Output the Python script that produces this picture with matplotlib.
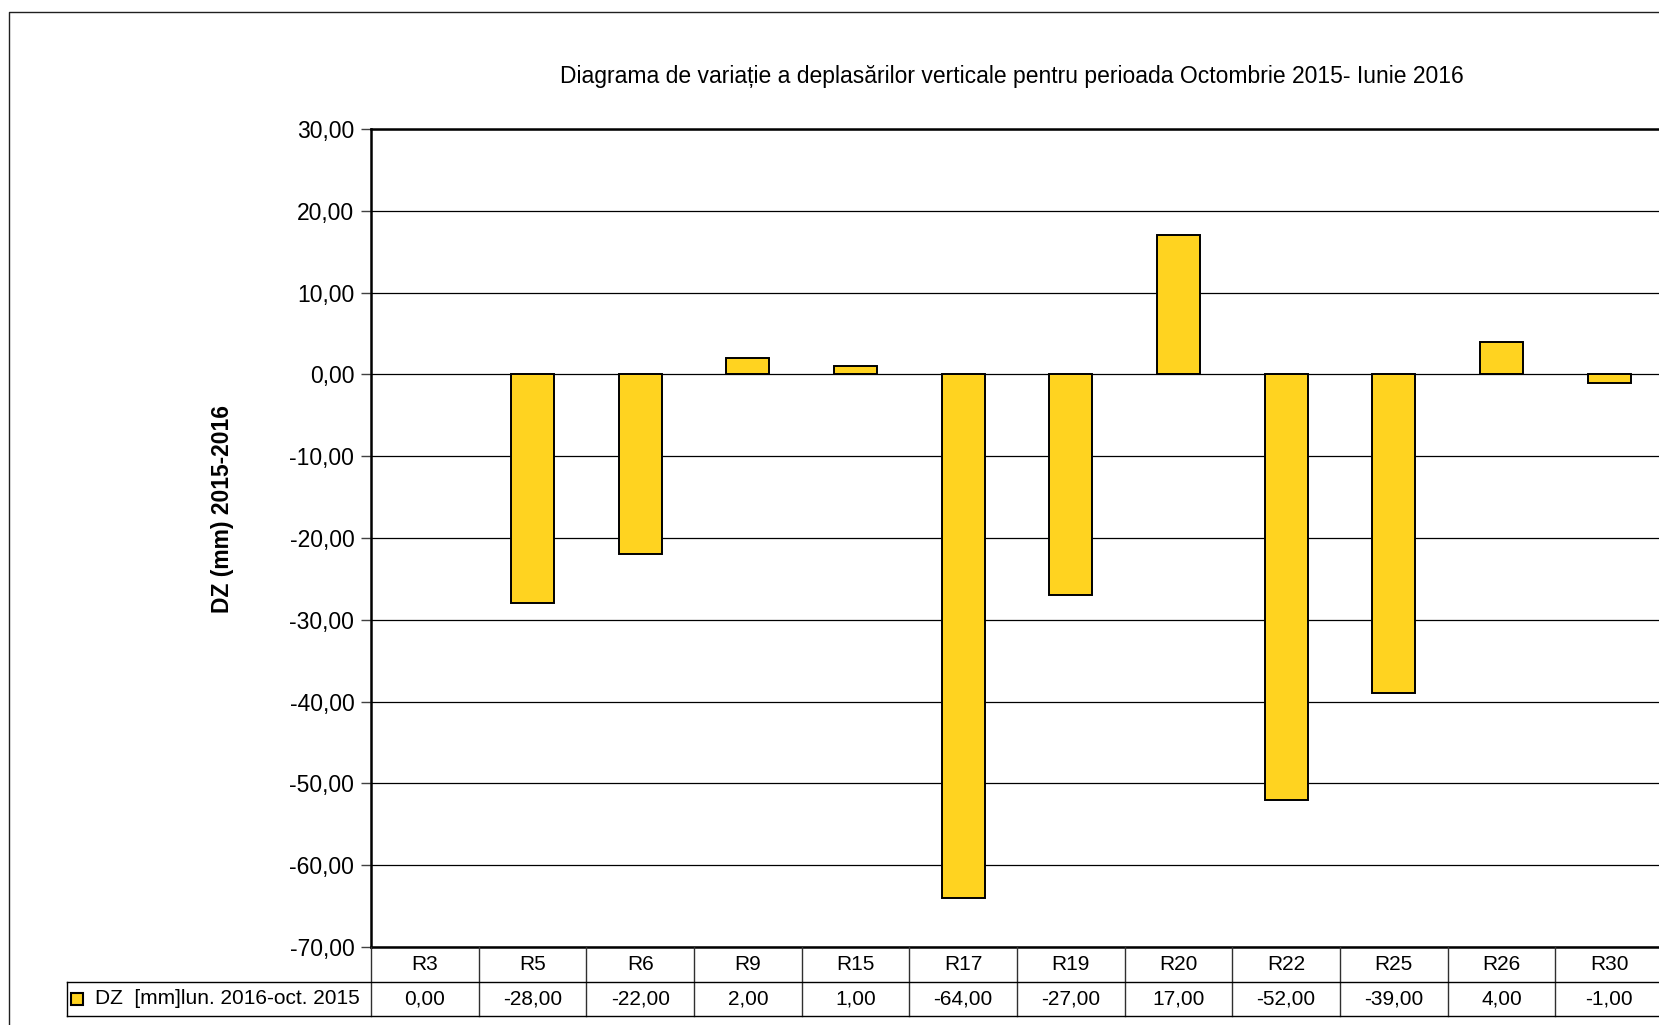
import matplotlib
matplotlib.use("Agg")
import matplotlib.pyplot as plt
import matplotlib.transforms as mtransforms
from matplotlib.lines import Line2D

# data
categories = ["R3", "R5", "R6", "R9", "R15", "R17", "R19", "R20", "R22", "R25", "R26", "R30"]
dz_values = [0, -28, -22, 2, 1, -64, -27, 17, -52, -39, 4, -1]
series_label = "DZ  [mm]lun. 2016-oct. 2015"
y_ticks = [30, 20, 10, 0, -10, -20, -30, -40, -50, -60, -70]

plt.rcParams["font.family"] = ["Liberation Sans", "DejaVu Sans"]

W, H = 1659, 1025
fig = plt.figure(figsize=(W / 100, H / 100), dpi=100)

def fx(px):
    return px / W

def fy(py):
    return 1 - py / H

left, right, top, bottom = 371, 1663, 129, 947
ax = fig.add_axes([fx(left), fy(bottom), fx(right - left), fy(top) - fy(bottom)])

x = list(range(len(categories)))
ax.bar(x, dz_values, width=0.4, color="#FFD320", edgecolor="black",
       linewidth=[0 if v == 0 else 1.4 for v in dz_values], zorder=3)

ax.set_xlim(-0.5, len(categories) - 0.5)
ax.set_ylim(-70, 30)
ax.set_yticks(y_ticks)
ax.set_yticklabels([f"{v:.2f}".replace(".", ",") for v in y_ticks], fontsize=16.5)
ax.set_xticks([])
ax.tick_params(axis="y", direction="out", length=7, width=1, color="#404040", pad=5)
ax.yaxis.grid(True, color="black", linewidth=0.9, zorder=0)
for s in ax.spines.values():
    s.set_linewidth(1.8)
ax.spines["right"].set_visible(False)

fig.text(fx(222), fy(509), "DZ (mm) 2015-2016", rotation=90, ha="center", va="center",
         fontsize=16.5, fontweight="bold")

fig.text(fx(1012), fy(77), "Diagrama de variație a deplasărilor verticale pentru perioada Octombrie 2015- Iunie 2016",
         ha="center", va="center", fontsize=16.5)

# data table under the plot
tr = mtransforms.blended_transform_factory(ax.transData, fig.transFigure)
r0, r1, r2 = fy(947), fy(982), fy(1016)
n = len(categories)
for i in range(n + 1):
    fig.add_artist(Line2D([i - 0.5, i - 0.5], [r2, r0], transform=tr, color="#303030", lw=1))
for i, (c, v) in enumerate(zip(categories, dz_values)):
    fig.text(i, (r0 + r1) / 2, c, transform=tr, ha="center", va="center", fontsize=15)
    fig.text(i, (r1 + r2) / 2, f"{v:.2f}".replace(".", ","), transform=tr,
             ha="center", va="center", fontsize=15)
fig.add_artist(Line2D([fx(67), 1], [r1, r1], transform=fig.transFigure, color="black", lw=1))
fig.add_artist(Line2D([fx(67), 1], [r2, r2], transform=fig.transFigure, color="black", lw=1))
fig.add_artist(Line2D([fx(67), fx(67)], [r1, r2], transform=fig.transFigure, color="black", lw=1))
fig.add_artist(Line2D([fx(77)], [(r1 + r2) / 2], transform=fig.transFigure, marker="s", markersize=8,
                      markerfacecolor="#FFD320", markeredgecolor="black", markeredgewidth=1.5, linestyle="none"))
fig.text(fx(95), (r1 + r2) / 2, series_label, ha="left", va="center", fontsize=15)

# outer chart frame (right and bottom edges fall outside the picture)
fig.add_artist(Line2D([fx(9), fx(9), 1], [0, fy(12), fy(12)], transform=fig.transFigure, color="#202020", lw=1))

fig.savefig("out.png", dpi=100)
